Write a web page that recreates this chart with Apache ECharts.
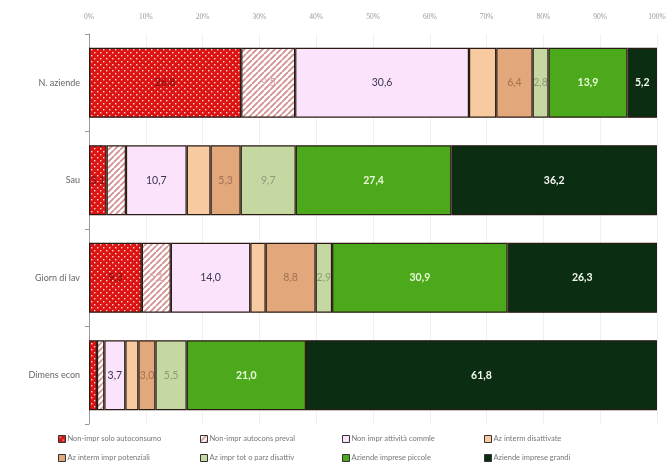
<!DOCTYPE html>
<html>
<head>
<meta charset="utf-8">
<script src="https://cdn.jsdelivr.net/npm/echarts@6/dist/echarts.min.js"></script>
<style>
  html, body { margin: 0; padding: 0; background: #fff; }
  #chart { width: 669px; height: 470px; }
</style>
</head>
<body>
<div id="chart"></div>
<script>
// Categories (top to bottom)
const categories = ['N. aziende', 'Sau', 'Giorn di lav', 'Dimens econ'];

// Percentage shares per group, one array per series
const soloAutoconsumo   = [26.8, 3.1, 9.3, 1.4];
const autoconsPreval    = [9.5, 3.4, 5.1, 1.3];
const attivitaCommle    = [30.6, 10.7, 14.0, 3.7];
const intermDisattivate = [4.8, 4.2, 2.7, 2.3];
const intermPotenziali  = [6.4, 5.3, 8.8, 3.0];
const imprDisattiv      = [2.8, 9.7, 2.9, 5.5];
const impresePiccole    = [13.9, 27.4, 30.9, 21.0];
const impreseGrandi     = [5.2, 36.2, 26.3, 61.8];

// Which segments carry a value label
const lblSolo   = [true, true, true, false];
const lblPreval = [true, false, true, false];
const lblComm   = [true, true, true, true];
const lblDis    = [false, false, false, false];
const lblPot    = [true, true, true, true];
const lblTot    = [true, true, true, true];
const lblPicc   = [true, true, true, true];
const lblGrandi = [true, true, true, true];

const tickLabels = ['0%', '10%', '20%', '30%', '40%', '50%', '60%', '70%', '80%', '90%', '100%'];

// Dotted red fill
function dotPattern() {
  const c = document.createElement('canvas');
  c.width = 6; c.height = 6;
  const g = c.getContext('2d');
  g.fillStyle = '#dc1414';
  g.fillRect(0, 0, 6, 6);
  g.fillStyle = '#ffd8d8';
  g.fillRect(1, 1, 1.4, 1.4);
  g.fillRect(4, 4, 1.4, 1.4);
  return c;
}
// Diagonal light-red hatch
function hatchPattern() {
  const s = 6;
  const c = document.createElement('canvas');
  c.width = s; c.height = s;
  const g = c.getContext('2d');
  g.fillStyle = '#ffffff';
  g.fillRect(0, 0, s, s);
  g.strokeStyle = '#d49090';
  g.lineWidth = 1.8;
  g.beginPath();
  for (let k = -s; k <= 2 * s; k += s) {
    g.moveTo(k, s); g.lineTo(k + s, 0);
  }
  g.stroke();
  return c;
}

const fmt = v => v.toFixed(1).replace('.', ',');

function makeSeries(name, values, shows, fill, lblColor, bold) {
  return {
    name: name,
    type: 'bar',
    stack: 'tot',
    barWidth: 70,
    itemStyle: { color: fill, borderColor: '#2a1a14', borderWidth: 1.2 },
    emphasis: { disabled: true },
    data: values.map((v, i) => ({
      value: v,
      label: { show: shows[i] }
    })),
    label: {
      show: true,
      position: 'inside',
      formatter: p => fmt(p.value),
      color: lblColor,
      fontFamily: 'Lato',
      fontSize: 10.5,
      fontWeight: bold ? 'bold' : 'normal'
    }
  };
}

const names = [
  'Non-impr solo autoconsumo', 'Non-impr autocons preval',
  'Non impr attività commle', 'Az interm disattivate',
  'Az interm impr potenziali', 'Az impr tot o parz disattiv',
  'Aziende imprese piccole', 'Aziende imprese grandi'
];

const series = [
  makeSeries(names[0], soloAutoconsumo, lblSolo, { image: dotPattern(), repeat: 'repeat' }, '#7a1010', false),
  makeSeries(names[1], autoconsPreval, lblPreval, { image: hatchPattern(), repeat: 'repeat' }, '#d8a8a8', false),
  makeSeries(names[2], attivitaCommle, lblComm, '#fbe3fb', '#3a3450', false),
  makeSeries(names[3], intermDisattivate, lblDis, '#f8caa0', '#8a6a50', false),
  makeSeries(names[4], intermPotenziali, lblPot, '#e2a87c', '#a07050', false),
  makeSeries(names[5], imprDisattiv, lblTot, '#c6d8a2', '#8c9a78', false),
  makeSeries(names[6], impresePiccole, lblPicc, '#4ba91b', '#eaf8d8', true),
  makeSeries(names[7], impreseGrandi, lblGrandi, '#0b2d12', '#f4f8f0', true)
];

// Legend laid out as a 4 x 2 table of fixed-width cells
const legendCellW = 142;
const legends = names.map((n, i) => ({
  left: 58 + (i % 4) * legendCellW,
  top: i < 4 ? 435 : 454,
  data: [n],
  padding: 0,
  itemWidth: 7,
  itemHeight: 7,
  itemGap: 0,
  icon: 'rect',
  itemStyle: { borderColor: '#333', borderWidth: 1 },
  textStyle: { fontFamily: 'Lato', fontSize: 7.5, color: '#777', padding: [0, 0, 0, -3] },
  selectedMode: false
}));

const chart = echarts.init(document.getElementById('chart'), null, { renderer: 'canvas' });
chart.setOption({
  animation: false,
  backgroundColor: '#ffffff',
  grid: { left: 89, right: 12, top: 34, bottom: 46 },
  xAxis: {
    type: 'value',
    position: 'top',
    min: 0, max: 100, interval: 10,
    axisLine: { show: false },
    axisTick: { show: false },
    splitLine: { show: true, lineStyle: { color: '#f0f0f0', width: 1 } },
    axisLabel: {
      color: '#999', fontSize: 7.5, fontFamily: 'Liberation Serif',
      margin: 13,
      formatter: v => tickLabels[Math.round(v / 10)]
    }
  },
  yAxis: {
    type: 'category',
    inverse: true,
    data: categories,
    axisLine: { show: true, lineStyle: { color: '#9a9a9a', width: 1 } },
    axisTick: { show: true, length: 4, lineStyle: { color: '#9a9a9a' } },
    axisLabel: { color: '#666', fontSize: 9, fontFamily: 'Lato', margin: 9 }
  },
  legend: legends,
  series: series
});
</script>
</body>
</html>
